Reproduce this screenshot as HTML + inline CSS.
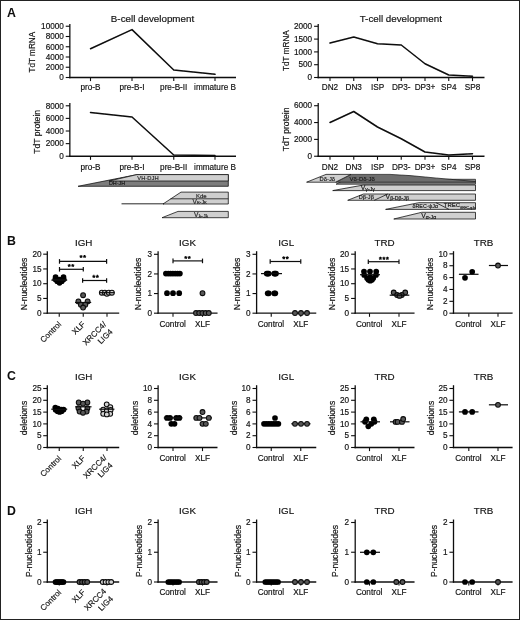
<!DOCTYPE html>
<html><head><meta charset="utf-8"><title>Figure</title>
<style>html,body{margin:0;padding:0;background:#fff;}body{width:520px;height:620px;overflow:hidden;font-family:"Liberation Sans",sans-serif;}svg{display:block;font-family:"Liberation Sans",sans-serif;}</style>
</head><body>
<svg width="520" height="620" viewBox="0 0 520 620">
<rect x="0" y="0" width="520" height="620" fill="#fff"/>
<rect x="0.5" y="0.5" width="519" height="619" fill="none" stroke="#222" stroke-width="1"/>
<defs><filter id="soft" x="0" y="0" width="520" height="620" filterUnits="userSpaceOnUse"><feGaussianBlur stdDeviation="0.38"/></filter></defs>
<g filter="url(#soft)">
<text x="7.00" y="17.20" font-size="12.3" text-anchor="start" font-weight="bold" fill="#0a0a0a" stroke="#0a0a0a" stroke-width="0">A</text>
<text x="7.00" y="244.90" font-size="12.3" text-anchor="start" font-weight="bold" fill="#0a0a0a" stroke="#0a0a0a" stroke-width="0">B</text>
<text x="7.00" y="379.80" font-size="12.3" text-anchor="start" font-weight="bold" fill="#0a0a0a" stroke="#0a0a0a" stroke-width="0">C</text>
<text x="7.00" y="514.50" font-size="12.3" text-anchor="start" font-weight="bold" fill="#0a0a0a" stroke="#0a0a0a" stroke-width="0">D</text>
<line x1="69.85" y1="24.00" x2="69.85" y2="78.15" stroke="#111" stroke-width="1.3" stroke-linecap="butt"/>
<line x1="69.20" y1="77.50" x2="236.00" y2="77.50" stroke="#111" stroke-width="1.3" stroke-linecap="butt"/>
<line x1="65.75" y1="77.50" x2="69.85" y2="77.50" stroke="#111" stroke-width="1.1" stroke-linecap="butt"/>
<text x="63.90" y="80.25" font-size="8.2" text-anchor="end" font-weight="normal" fill="#151515" stroke="#151515" stroke-width="0.18">0</text>
<line x1="65.75" y1="67.25" x2="69.85" y2="67.25" stroke="#111" stroke-width="1.1" stroke-linecap="butt"/>
<text x="63.90" y="70.00" font-size="8.2" text-anchor="end" font-weight="normal" fill="#151515" stroke="#151515" stroke-width="0.18">2000</text>
<line x1="65.75" y1="57.00" x2="69.85" y2="57.00" stroke="#111" stroke-width="1.1" stroke-linecap="butt"/>
<text x="63.90" y="59.75" font-size="8.2" text-anchor="end" font-weight="normal" fill="#151515" stroke="#151515" stroke-width="0.18">4000</text>
<line x1="65.75" y1="46.75" x2="69.85" y2="46.75" stroke="#111" stroke-width="1.1" stroke-linecap="butt"/>
<text x="63.90" y="49.50" font-size="8.2" text-anchor="end" font-weight="normal" fill="#151515" stroke="#151515" stroke-width="0.18">6000</text>
<line x1="65.75" y1="36.50" x2="69.85" y2="36.50" stroke="#111" stroke-width="1.1" stroke-linecap="butt"/>
<text x="63.90" y="39.25" font-size="8.2" text-anchor="end" font-weight="normal" fill="#151515" stroke="#151515" stroke-width="0.18">8000</text>
<line x1="65.75" y1="26.25" x2="69.85" y2="26.25" stroke="#111" stroke-width="1.1" stroke-linecap="butt"/>
<text x="63.90" y="29.00" font-size="8.2" text-anchor="end" font-weight="normal" fill="#151515" stroke="#151515" stroke-width="0.18">10000</text>
<line x1="90.50" y1="77.50" x2="90.50" y2="81.10" stroke="#111" stroke-width="1.1" stroke-linecap="butt"/>
<line x1="132.00" y1="77.50" x2="132.00" y2="81.10" stroke="#111" stroke-width="1.1" stroke-linecap="butt"/>
<line x1="173.75" y1="77.50" x2="173.75" y2="81.10" stroke="#111" stroke-width="1.1" stroke-linecap="butt"/>
<line x1="215.00" y1="77.50" x2="215.00" y2="81.10" stroke="#111" stroke-width="1.1" stroke-linecap="butt"/>
<text x="35.00" y="52.20" font-size="8.2" text-anchor="middle" font-weight="normal" fill="#151515" stroke="#151515" stroke-width="0.18" transform="rotate(-90 35.00 52.20)">TdT mRNA</text>
<text x="152.50" y="22.00" font-size="9.8" text-anchor="middle" font-weight="normal" fill="#151515" stroke="#151515" stroke-width="0.18">B-cell development</text>
<text x="90.50" y="90.30" font-size="8.2" text-anchor="middle" font-weight="normal" fill="#151515" stroke="#151515" stroke-width="0.18">pro-B</text>
<text x="132.00" y="90.30" font-size="8.2" text-anchor="middle" font-weight="normal" fill="#151515" stroke="#151515" stroke-width="0.18">pre-B-I</text>
<text x="173.75" y="90.30" font-size="8.2" text-anchor="middle" font-weight="normal" fill="#151515" stroke="#151515" stroke-width="0.18">pre-B-II</text>
<text x="215.00" y="90.30" font-size="8.2" text-anchor="middle" font-weight="normal" fill="#151515" stroke="#151515" stroke-width="0.18">immature B</text>
<polyline points="90.50,48.75 132.00,29.60 173.75,70.00 215.00,74.30" fill="none" stroke="#0a0a0a" stroke-width="1.5" stroke-linejoin="round" stroke-linecap="round"/>
<line x1="69.85" y1="103.00" x2="69.85" y2="156.90" stroke="#111" stroke-width="1.3" stroke-linecap="butt"/>
<line x1="69.20" y1="156.25" x2="236.00" y2="156.25" stroke="#111" stroke-width="1.3" stroke-linecap="butt"/>
<line x1="65.75" y1="156.25" x2="69.85" y2="156.25" stroke="#111" stroke-width="1.1" stroke-linecap="butt"/>
<text x="63.90" y="159.00" font-size="8.2" text-anchor="end" font-weight="normal" fill="#151515" stroke="#151515" stroke-width="0.18">0</text>
<line x1="65.75" y1="143.63" x2="69.85" y2="143.63" stroke="#111" stroke-width="1.1" stroke-linecap="butt"/>
<text x="63.90" y="146.38" font-size="8.2" text-anchor="end" font-weight="normal" fill="#151515" stroke="#151515" stroke-width="0.18">2000</text>
<line x1="65.75" y1="131.01" x2="69.85" y2="131.01" stroke="#111" stroke-width="1.1" stroke-linecap="butt"/>
<text x="63.90" y="133.76" font-size="8.2" text-anchor="end" font-weight="normal" fill="#151515" stroke="#151515" stroke-width="0.18">4000</text>
<line x1="65.75" y1="118.39" x2="69.85" y2="118.39" stroke="#111" stroke-width="1.1" stroke-linecap="butt"/>
<text x="63.90" y="121.14" font-size="8.2" text-anchor="end" font-weight="normal" fill="#151515" stroke="#151515" stroke-width="0.18">6000</text>
<line x1="65.75" y1="105.77" x2="69.85" y2="105.77" stroke="#111" stroke-width="1.1" stroke-linecap="butt"/>
<text x="63.90" y="108.52" font-size="8.2" text-anchor="end" font-weight="normal" fill="#151515" stroke="#151515" stroke-width="0.18">8000</text>
<line x1="90.50" y1="156.25" x2="90.50" y2="159.85" stroke="#111" stroke-width="1.1" stroke-linecap="butt"/>
<line x1="132.00" y1="156.25" x2="132.00" y2="159.85" stroke="#111" stroke-width="1.1" stroke-linecap="butt"/>
<line x1="173.75" y1="156.25" x2="173.75" y2="159.85" stroke="#111" stroke-width="1.1" stroke-linecap="butt"/>
<line x1="215.00" y1="156.25" x2="215.00" y2="159.85" stroke="#111" stroke-width="1.1" stroke-linecap="butt"/>
<text x="40.50" y="131.80" font-size="8.6" text-anchor="middle" font-weight="normal" fill="#151515" stroke="#151515" stroke-width="0.18" transform="rotate(-90 40.50 131.80)">TdT protein</text>
<text x="90.50" y="169.60" font-size="8.2" text-anchor="middle" font-weight="normal" fill="#151515" stroke="#151515" stroke-width="0.18">pro-B</text>
<text x="132.00" y="169.60" font-size="8.2" text-anchor="middle" font-weight="normal" fill="#151515" stroke="#151515" stroke-width="0.18">pre-B-I</text>
<text x="173.75" y="169.60" font-size="8.2" text-anchor="middle" font-weight="normal" fill="#151515" stroke="#151515" stroke-width="0.18">pre-B-II</text>
<text x="215.00" y="169.60" font-size="8.2" text-anchor="middle" font-weight="normal" fill="#151515" stroke="#151515" stroke-width="0.18">immature B</text>
<polyline points="90.50,112.50 132.00,117.00 173.75,155.00 215.00,155.40" fill="none" stroke="#0a0a0a" stroke-width="1.5" stroke-linejoin="round" stroke-linecap="round"/>
<polygon points="78.00,186.30 137.00,174.60 228.30,174.60 228.30,186.30" fill="#7d7d7d" stroke="#151515" stroke-width="0.8" stroke-linejoin="bevel"/>
<polygon points="109.00,181.00 137.00,174.60 228.30,174.60 228.30,181.00" fill="#cfcfcf" stroke="#151515" stroke-width="0.8" stroke-linejoin="bevel"/>
<text x="148.00" y="179.70" font-size="5.8" text-anchor="middle" font-weight="normal" fill="#2a2a2a" stroke="#2a2a2a" stroke-width="0.18">VH-DJH</text>
<text x="117.00" y="185.40" font-size="5.4" text-anchor="middle" font-weight="normal" fill="#1a1a1a" stroke="#1a1a1a" stroke-width="0.18">DH-JH</text>
<polygon points="163.00,204.00 181.00,192.10 228.30,192.10 228.30,204.00" fill="#cfcfcf" stroke="#151515" stroke-width="0.8" stroke-linejoin="bevel"/>
<line x1="170.50" y1="198.80" x2="228.30" y2="198.80" stroke="#151515" stroke-width="0.8" stroke-linecap="butt"/>
<line x1="121.50" y1="203.80" x2="164.00" y2="203.80" stroke="#151515" stroke-width="0.9" stroke-linecap="butt"/>
<text x="201.30" y="197.90" font-size="6.0" text-anchor="middle" font-weight="normal" fill="#2a2a2a" stroke="#2a2a2a" stroke-width="0.18">Kde</text>
<text x="192.50" y="203.50" text-anchor="start" fill="#2a2a2a" stroke="#2a2a2a" stroke-width="0.2"><tspan font-size="6.6">V</tspan><tspan font-size="5.4" dy="0.6">κ-Jκ</tspan></text>
<polygon points="162.00,217.70 178.00,211.40 228.30,211.40 228.30,217.70" fill="#cfcfcf" stroke="#151515" stroke-width="0.8" stroke-linejoin="bevel"/>
<text x="194.00" y="216.90" text-anchor="start" fill="#2a2a2a" stroke="#2a2a2a" stroke-width="0.2"><tspan font-size="6.6">V</tspan><tspan font-size="5.4" dy="0.6">λ-Jλ</tspan></text>
<line x1="318.20" y1="24.00" x2="318.20" y2="78.15" stroke="#111" stroke-width="1.3" stroke-linecap="butt"/>
<line x1="317.55" y1="77.50" x2="484.50" y2="77.50" stroke="#111" stroke-width="1.3" stroke-linecap="butt"/>
<line x1="314.10" y1="77.50" x2="318.20" y2="77.50" stroke="#111" stroke-width="1.1" stroke-linecap="butt"/>
<text x="312.10" y="80.25" font-size="8.2" text-anchor="end" font-weight="normal" fill="#151515" stroke="#151515" stroke-width="0.18">0</text>
<line x1="314.10" y1="64.70" x2="318.20" y2="64.70" stroke="#111" stroke-width="1.1" stroke-linecap="butt"/>
<text x="312.10" y="67.45" font-size="8.2" text-anchor="end" font-weight="normal" fill="#151515" stroke="#151515" stroke-width="0.18">500</text>
<line x1="314.10" y1="51.90" x2="318.20" y2="51.90" stroke="#111" stroke-width="1.1" stroke-linecap="butt"/>
<text x="312.10" y="54.65" font-size="8.2" text-anchor="end" font-weight="normal" fill="#151515" stroke="#151515" stroke-width="0.18">1000</text>
<line x1="314.10" y1="39.10" x2="318.20" y2="39.10" stroke="#111" stroke-width="1.1" stroke-linecap="butt"/>
<text x="312.10" y="41.85" font-size="8.2" text-anchor="end" font-weight="normal" fill="#151515" stroke="#151515" stroke-width="0.18">1500</text>
<line x1="314.10" y1="26.30" x2="318.20" y2="26.30" stroke="#111" stroke-width="1.1" stroke-linecap="butt"/>
<text x="312.10" y="29.05" font-size="8.2" text-anchor="end" font-weight="normal" fill="#151515" stroke="#151515" stroke-width="0.18">2000</text>
<line x1="330.00" y1="77.50" x2="330.00" y2="81.10" stroke="#111" stroke-width="1.1" stroke-linecap="butt"/>
<line x1="353.75" y1="77.50" x2="353.75" y2="81.10" stroke="#111" stroke-width="1.1" stroke-linecap="butt"/>
<line x1="377.50" y1="77.50" x2="377.50" y2="81.10" stroke="#111" stroke-width="1.1" stroke-linecap="butt"/>
<line x1="401.25" y1="77.50" x2="401.25" y2="81.10" stroke="#111" stroke-width="1.1" stroke-linecap="butt"/>
<line x1="425.00" y1="77.50" x2="425.00" y2="81.10" stroke="#111" stroke-width="1.1" stroke-linecap="butt"/>
<line x1="448.75" y1="77.50" x2="448.75" y2="81.10" stroke="#111" stroke-width="1.1" stroke-linecap="butt"/>
<line x1="472.50" y1="77.50" x2="472.50" y2="81.10" stroke="#111" stroke-width="1.1" stroke-linecap="butt"/>
<text x="288.90" y="50.60" font-size="8.2" text-anchor="middle" font-weight="normal" fill="#151515" stroke="#151515" stroke-width="0.18" transform="rotate(-90 288.90 50.60)">TdT mRNA</text>
<text x="400.80" y="22.00" font-size="9.8" text-anchor="middle" font-weight="normal" fill="#151515" stroke="#151515" stroke-width="0.18">T-cell development</text>
<text x="330.00" y="90.30" font-size="8.2" text-anchor="middle" font-weight="normal" fill="#151515" stroke="#151515" stroke-width="0.18">DN2</text>
<text x="353.75" y="90.30" font-size="8.2" text-anchor="middle" font-weight="normal" fill="#151515" stroke="#151515" stroke-width="0.18">DN3</text>
<text x="377.50" y="90.30" font-size="8.2" text-anchor="middle" font-weight="normal" fill="#151515" stroke="#151515" stroke-width="0.18">ISP</text>
<text x="401.25" y="90.30" font-size="8.2" text-anchor="middle" font-weight="normal" fill="#151515" stroke="#151515" stroke-width="0.18">DP3-</text>
<text x="425.00" y="90.30" font-size="8.2" text-anchor="middle" font-weight="normal" fill="#151515" stroke="#151515" stroke-width="0.18">DP3+</text>
<text x="448.75" y="90.30" font-size="8.2" text-anchor="middle" font-weight="normal" fill="#151515" stroke="#151515" stroke-width="0.18">SP4</text>
<text x="472.50" y="90.30" font-size="8.2" text-anchor="middle" font-weight="normal" fill="#151515" stroke="#151515" stroke-width="0.18">SP8</text>
<polyline points="330.00,43.00 353.75,37.00 377.50,43.75 401.25,45.00 425.00,63.75 448.75,75.00 472.50,76.30" fill="none" stroke="#0a0a0a" stroke-width="1.5" stroke-linejoin="round" stroke-linecap="round"/>
<line x1="318.20" y1="103.00" x2="318.20" y2="156.90" stroke="#111" stroke-width="1.3" stroke-linecap="butt"/>
<line x1="317.55" y1="156.25" x2="484.50" y2="156.25" stroke="#111" stroke-width="1.3" stroke-linecap="butt"/>
<line x1="314.10" y1="156.25" x2="318.20" y2="156.25" stroke="#111" stroke-width="1.1" stroke-linecap="butt"/>
<text x="312.10" y="159.00" font-size="8.2" text-anchor="end" font-weight="normal" fill="#151515" stroke="#151515" stroke-width="0.18">0</text>
<line x1="314.10" y1="139.40" x2="318.20" y2="139.40" stroke="#111" stroke-width="1.1" stroke-linecap="butt"/>
<text x="312.10" y="142.15" font-size="8.2" text-anchor="end" font-weight="normal" fill="#151515" stroke="#151515" stroke-width="0.18">2000</text>
<line x1="314.10" y1="122.55" x2="318.20" y2="122.55" stroke="#111" stroke-width="1.1" stroke-linecap="butt"/>
<text x="312.10" y="125.30" font-size="8.2" text-anchor="end" font-weight="normal" fill="#151515" stroke="#151515" stroke-width="0.18">4000</text>
<line x1="314.10" y1="105.70" x2="318.20" y2="105.70" stroke="#111" stroke-width="1.1" stroke-linecap="butt"/>
<text x="312.10" y="108.45" font-size="8.2" text-anchor="end" font-weight="normal" fill="#151515" stroke="#151515" stroke-width="0.18">6000</text>
<line x1="330.00" y1="156.25" x2="330.00" y2="159.85" stroke="#111" stroke-width="1.1" stroke-linecap="butt"/>
<line x1="353.75" y1="156.25" x2="353.75" y2="159.85" stroke="#111" stroke-width="1.1" stroke-linecap="butt"/>
<line x1="377.50" y1="156.25" x2="377.50" y2="159.85" stroke="#111" stroke-width="1.1" stroke-linecap="butt"/>
<line x1="401.25" y1="156.25" x2="401.25" y2="159.85" stroke="#111" stroke-width="1.1" stroke-linecap="butt"/>
<line x1="425.00" y1="156.25" x2="425.00" y2="159.85" stroke="#111" stroke-width="1.1" stroke-linecap="butt"/>
<line x1="448.75" y1="156.25" x2="448.75" y2="159.85" stroke="#111" stroke-width="1.1" stroke-linecap="butt"/>
<line x1="472.50" y1="156.25" x2="472.50" y2="159.85" stroke="#111" stroke-width="1.1" stroke-linecap="butt"/>
<text x="289.20" y="129.40" font-size="8.6" text-anchor="middle" font-weight="normal" fill="#151515" stroke="#151515" stroke-width="0.18" transform="rotate(-90 289.20 129.40)">TdT protein</text>
<text x="330.00" y="169.60" font-size="8.2" text-anchor="middle" font-weight="normal" fill="#151515" stroke="#151515" stroke-width="0.18">DN2</text>
<text x="353.75" y="169.60" font-size="8.2" text-anchor="middle" font-weight="normal" fill="#151515" stroke="#151515" stroke-width="0.18">DN3</text>
<text x="377.50" y="169.60" font-size="8.2" text-anchor="middle" font-weight="normal" fill="#151515" stroke="#151515" stroke-width="0.18">ISP</text>
<text x="401.25" y="169.60" font-size="8.2" text-anchor="middle" font-weight="normal" fill="#151515" stroke="#151515" stroke-width="0.18">DP3-</text>
<text x="425.00" y="169.60" font-size="8.2" text-anchor="middle" font-weight="normal" fill="#151515" stroke="#151515" stroke-width="0.18">DP3+</text>
<text x="448.75" y="169.60" font-size="8.2" text-anchor="middle" font-weight="normal" fill="#151515" stroke="#151515" stroke-width="0.18">SP4</text>
<text x="472.50" y="169.60" font-size="8.2" text-anchor="middle" font-weight="normal" fill="#151515" stroke="#151515" stroke-width="0.18">SP8</text>
<polyline points="330.00,122.50 353.75,111.50 377.50,127.00 401.25,138.75 425.00,152.00 448.75,155.00 472.50,153.80" fill="none" stroke="#0a0a0a" stroke-width="1.5" stroke-linejoin="round" stroke-linecap="round"/>
<polygon points="345.50,179.30 475.50,179.30 475.50,184.20 336.00,184.20" fill="#8e8e8e" stroke="#151515" stroke-width="0.7" stroke-linejoin="bevel"/>
<polygon points="335.60,182.20 351.00,174.40 390.00,174.40 410.00,175.60 440.00,178.40 475.50,181.50 475.50,182.20" fill="#6e6e6e" stroke="#151515" stroke-width="0.7" stroke-linejoin="bevel"/>
<polygon points="306.60,182.20 326.00,174.40 351.00,174.40 335.60,182.20" fill="#cfcfcf" stroke="#151515" stroke-width="0.8" stroke-linejoin="bevel"/>
<text x="327.30" y="180.50" font-size="5.8" text-anchor="middle" font-weight="normal" fill="#1a1a1a" stroke="#1a1a1a" stroke-width="0.18">Dδ-Jδ</text>
<text x="362.30" y="180.50" font-size="6.0" text-anchor="middle" font-weight="normal" fill="#1a1a1a" stroke="#1a1a1a" stroke-width="0.18">Vδ-Dδ-Jδ</text>
<polygon points="332.70,190.60 363.50,185.00 475.50,185.00 475.50,190.60" fill="#cfcfcf" stroke="#151515" stroke-width="0.8" stroke-linejoin="bevel"/>
<text x="360.80" y="190.00" text-anchor="start" fill="#1a1a1a" stroke="#1a1a1a" stroke-width="0.2"><tspan font-size="6.8">V</tspan><tspan font-size="5.2" dy="0.6">γ-Jγ</tspan></text>
<polygon points="347.70,200.30 363.50,194.00 475.50,194.00 475.50,200.30" fill="#cfcfcf" stroke="#151515" stroke-width="0.8" stroke-linejoin="bevel"/>
<line x1="374.20" y1="200.30" x2="387.80" y2="194.00" stroke="#151515" stroke-width="0.8" stroke-linecap="butt"/>
<text x="366.30" y="199.40" font-size="5.6" text-anchor="middle" font-weight="normal" fill="#1a1a1a" stroke="#1a1a1a" stroke-width="0.18">Dβ-Jβ</text>
<text x="385.60" y="199.30" text-anchor="start" fill="#1a1a1a" stroke="#1a1a1a" stroke-width="0.2"><tspan font-size="6.8">V</tspan><tspan font-size="5.2" dy="0.6">β-Dβ-Jβ</tspan></text>
<polygon points="385.60,209.40 418.80,202.70 475.50,202.70 475.50,209.40" fill="#cfcfcf" stroke="#151515" stroke-width="0.8" stroke-linejoin="bevel"/>
<line x1="436.00" y1="202.70" x2="449.00" y2="209.40" stroke="#151515" stroke-width="0.8" stroke-linecap="butt"/>
<text x="425.30" y="208.20" font-size="5.3" text-anchor="middle" font-weight="normal" fill="#1a1a1a" stroke="#1a1a1a" stroke-width="0.18">δREC-ψJα</text>
<text x="452.00" y="207.00" font-size="6.0" text-anchor="middle" font-weight="normal" fill="#1a1a1a" stroke="#1a1a1a" stroke-width="0.18">TREC</text>
<text x="468.00" y="209.00" font-size="3.2" text-anchor="middle" font-weight="normal" fill="#1a1a1a" stroke="#1a1a1a" stroke-width="0.18">δREC-ψJα</text>
<polygon points="393.80,219.00 421.70,212.30 475.50,212.30 475.50,219.00" fill="#cfcfcf" stroke="#151515" stroke-width="0.8" stroke-linejoin="bevel"/>
<text x="421.30" y="218.30" text-anchor="start" fill="#1a1a1a" stroke="#1a1a1a" stroke-width="0.2"><tspan font-size="6.8">V</tspan><tspan font-size="5.2" dy="0.6">α-Jα</tspan></text>
<line x1="47.30" y1="251.20" x2="47.30" y2="313.85" stroke="#111" stroke-width="1.3" stroke-linecap="butt"/>
<line x1="46.65" y1="313.20" x2="119.20" y2="313.20" stroke="#111" stroke-width="1.3" stroke-linecap="butt"/>
<line x1="43.20" y1="313.20" x2="47.30" y2="313.20" stroke="#111" stroke-width="1.1" stroke-linecap="butt"/>
<text x="41.50" y="315.95" font-size="8.2" text-anchor="end" font-weight="normal" fill="#151515" stroke="#151515" stroke-width="0.18">0</text>
<line x1="43.20" y1="298.45" x2="47.30" y2="298.45" stroke="#111" stroke-width="1.1" stroke-linecap="butt"/>
<text x="41.50" y="301.20" font-size="8.2" text-anchor="end" font-weight="normal" fill="#151515" stroke="#151515" stroke-width="0.18">5</text>
<line x1="43.20" y1="283.70" x2="47.30" y2="283.70" stroke="#111" stroke-width="1.1" stroke-linecap="butt"/>
<text x="41.50" y="286.45" font-size="8.2" text-anchor="end" font-weight="normal" fill="#151515" stroke="#151515" stroke-width="0.18">10</text>
<line x1="43.20" y1="268.95" x2="47.30" y2="268.95" stroke="#111" stroke-width="1.1" stroke-linecap="butt"/>
<text x="41.50" y="271.70" font-size="8.2" text-anchor="end" font-weight="normal" fill="#151515" stroke="#151515" stroke-width="0.18">15</text>
<line x1="43.20" y1="254.20" x2="47.30" y2="254.20" stroke="#111" stroke-width="1.1" stroke-linecap="butt"/>
<text x="41.50" y="256.95" font-size="8.2" text-anchor="end" font-weight="normal" fill="#151515" stroke="#151515" stroke-width="0.18">20</text>
<line x1="59.25" y1="313.20" x2="59.25" y2="316.80" stroke="#111" stroke-width="1.1" stroke-linecap="butt"/>
<line x1="83.25" y1="313.20" x2="83.25" y2="316.80" stroke="#111" stroke-width="1.1" stroke-linecap="butt"/>
<line x1="107.00" y1="313.20" x2="107.00" y2="316.80" stroke="#111" stroke-width="1.1" stroke-linecap="butt"/>
<text x="26.70" y="284.00" font-size="8.6" text-anchor="middle" font-weight="normal" fill="#151515" stroke="#151515" stroke-width="0.18" transform="rotate(-90 26.70 284.00)">N-nucleotides</text>
<text x="83.75" y="246.00" font-size="9.8" text-anchor="middle" font-weight="normal" fill="#151515" stroke="#151515" stroke-width="0.18">IGH</text>
<text x="61.75" y="324.80" font-size="8.0" text-anchor="end" font-weight="normal" fill="#151515" stroke="#151515" stroke-width="0.18" transform="rotate(-45 61.75 324.80)">Control</text>
<text x="85.75" y="324.70" font-size="8.0" text-anchor="end" font-weight="normal" fill="#151515" stroke="#151515" stroke-width="0.18" transform="rotate(-45 85.75 324.70)">XLF</text>
<g transform="rotate(-45 109.50 321.30)"><text x="90.30" y="322.00" font-size="8.0" text-anchor="middle" fill="#151515" stroke="#151515" stroke-width="0.18">XRCC4/</text><text x="95.70" y="331.70" font-size="8.0" text-anchor="middle" fill="#151515" stroke="#151515" stroke-width="0.18">LIG4</text></g>
<line x1="158.10" y1="251.20" x2="158.10" y2="313.85" stroke="#111" stroke-width="1.3" stroke-linecap="butt"/>
<line x1="157.45" y1="313.20" x2="217.50" y2="313.20" stroke="#111" stroke-width="1.3" stroke-linecap="butt"/>
<line x1="154.00" y1="313.20" x2="158.10" y2="313.20" stroke="#111" stroke-width="1.1" stroke-linecap="butt"/>
<text x="152.00" y="315.95" font-size="8.2" text-anchor="end" font-weight="normal" fill="#151515" stroke="#151515" stroke-width="0.18">0</text>
<line x1="154.00" y1="293.57" x2="158.10" y2="293.57" stroke="#111" stroke-width="1.1" stroke-linecap="butt"/>
<text x="152.00" y="296.32" font-size="8.2" text-anchor="end" font-weight="normal" fill="#151515" stroke="#151515" stroke-width="0.18">1</text>
<line x1="154.00" y1="273.94" x2="158.10" y2="273.94" stroke="#111" stroke-width="1.1" stroke-linecap="butt"/>
<text x="152.00" y="276.69" font-size="8.2" text-anchor="end" font-weight="normal" fill="#151515" stroke="#151515" stroke-width="0.18">2</text>
<line x1="154.00" y1="254.31" x2="158.10" y2="254.31" stroke="#111" stroke-width="1.1" stroke-linecap="butt"/>
<text x="152.00" y="257.06" font-size="8.2" text-anchor="end" font-weight="normal" fill="#151515" stroke="#151515" stroke-width="0.18">3</text>
<line x1="173.00" y1="313.20" x2="173.00" y2="316.80" stroke="#111" stroke-width="1.1" stroke-linecap="butt"/>
<line x1="202.50" y1="313.20" x2="202.50" y2="316.80" stroke="#111" stroke-width="1.1" stroke-linecap="butt"/>
<text x="140.70" y="284.00" font-size="8.6" text-anchor="middle" font-weight="normal" fill="#151515" stroke="#151515" stroke-width="0.18" transform="rotate(-90 140.70 284.00)">N-nucleotides</text>
<text x="187.50" y="246.00" font-size="9.8" text-anchor="middle" font-weight="normal" fill="#151515" stroke="#151515" stroke-width="0.18">IGK</text>
<text x="172.60" y="327.00" font-size="8.2" text-anchor="middle" font-weight="normal" fill="#151515" stroke="#151515" stroke-width="0.18">Control</text>
<text x="202.50" y="327.00" font-size="8.2" text-anchor="middle" font-weight="normal" fill="#151515" stroke="#151515" stroke-width="0.18">XLF</text>
<line x1="256.60" y1="251.20" x2="256.60" y2="313.85" stroke="#111" stroke-width="1.3" stroke-linecap="butt"/>
<line x1="255.95" y1="313.20" x2="316.25" y2="313.20" stroke="#111" stroke-width="1.3" stroke-linecap="butt"/>
<line x1="252.50" y1="313.20" x2="256.60" y2="313.20" stroke="#111" stroke-width="1.1" stroke-linecap="butt"/>
<text x="250.50" y="315.95" font-size="8.2" text-anchor="end" font-weight="normal" fill="#151515" stroke="#151515" stroke-width="0.18">0</text>
<line x1="252.50" y1="293.57" x2="256.60" y2="293.57" stroke="#111" stroke-width="1.1" stroke-linecap="butt"/>
<text x="250.50" y="296.32" font-size="8.2" text-anchor="end" font-weight="normal" fill="#151515" stroke="#151515" stroke-width="0.18">1</text>
<line x1="252.50" y1="273.94" x2="256.60" y2="273.94" stroke="#111" stroke-width="1.1" stroke-linecap="butt"/>
<text x="250.50" y="276.69" font-size="8.2" text-anchor="end" font-weight="normal" fill="#151515" stroke="#151515" stroke-width="0.18">2</text>
<line x1="252.50" y1="254.31" x2="256.60" y2="254.31" stroke="#111" stroke-width="1.1" stroke-linecap="butt"/>
<text x="250.50" y="257.06" font-size="8.2" text-anchor="end" font-weight="normal" fill="#151515" stroke="#151515" stroke-width="0.18">3</text>
<line x1="271.25" y1="313.20" x2="271.25" y2="316.80" stroke="#111" stroke-width="1.1" stroke-linecap="butt"/>
<line x1="300.75" y1="313.20" x2="300.75" y2="316.80" stroke="#111" stroke-width="1.1" stroke-linecap="butt"/>
<text x="240.00" y="284.00" font-size="8.6" text-anchor="middle" font-weight="normal" fill="#151515" stroke="#151515" stroke-width="0.18" transform="rotate(-90 240.00 284.00)">N-nucleotides</text>
<text x="286.25" y="246.00" font-size="9.8" text-anchor="middle" font-weight="normal" fill="#151515" stroke="#151515" stroke-width="0.18">IGL</text>
<text x="270.85" y="327.00" font-size="8.2" text-anchor="middle" font-weight="normal" fill="#151515" stroke="#151515" stroke-width="0.18">Control</text>
<text x="300.75" y="327.00" font-size="8.2" text-anchor="middle" font-weight="normal" fill="#151515" stroke="#151515" stroke-width="0.18">XLF</text>
<line x1="355.20" y1="251.20" x2="355.20" y2="313.85" stroke="#111" stroke-width="1.3" stroke-linecap="butt"/>
<line x1="354.55" y1="313.20" x2="414.50" y2="313.20" stroke="#111" stroke-width="1.3" stroke-linecap="butt"/>
<line x1="351.10" y1="313.20" x2="355.20" y2="313.20" stroke="#111" stroke-width="1.1" stroke-linecap="butt"/>
<text x="349.10" y="315.95" font-size="8.2" text-anchor="end" font-weight="normal" fill="#151515" stroke="#151515" stroke-width="0.18">0</text>
<line x1="351.10" y1="298.45" x2="355.20" y2="298.45" stroke="#111" stroke-width="1.1" stroke-linecap="butt"/>
<text x="349.10" y="301.20" font-size="8.2" text-anchor="end" font-weight="normal" fill="#151515" stroke="#151515" stroke-width="0.18">5</text>
<line x1="351.10" y1="283.70" x2="355.20" y2="283.70" stroke="#111" stroke-width="1.1" stroke-linecap="butt"/>
<text x="349.10" y="286.45" font-size="8.2" text-anchor="end" font-weight="normal" fill="#151515" stroke="#151515" stroke-width="0.18">10</text>
<line x1="351.10" y1="268.95" x2="355.20" y2="268.95" stroke="#111" stroke-width="1.1" stroke-linecap="butt"/>
<text x="349.10" y="271.70" font-size="8.2" text-anchor="end" font-weight="normal" fill="#151515" stroke="#151515" stroke-width="0.18">15</text>
<line x1="351.10" y1="254.20" x2="355.20" y2="254.20" stroke="#111" stroke-width="1.1" stroke-linecap="butt"/>
<text x="349.10" y="256.95" font-size="8.2" text-anchor="end" font-weight="normal" fill="#151515" stroke="#151515" stroke-width="0.18">20</text>
<line x1="369.50" y1="313.20" x2="369.50" y2="316.80" stroke="#111" stroke-width="1.1" stroke-linecap="butt"/>
<line x1="399.00" y1="313.20" x2="399.00" y2="316.80" stroke="#111" stroke-width="1.1" stroke-linecap="butt"/>
<text x="334.80" y="284.00" font-size="8.6" text-anchor="middle" font-weight="normal" fill="#151515" stroke="#151515" stroke-width="0.18" transform="rotate(-90 334.80 284.00)">N-nucleotides</text>
<text x="384.50" y="246.00" font-size="9.8" text-anchor="middle" font-weight="normal" fill="#151515" stroke="#151515" stroke-width="0.18">TRD</text>
<text x="369.10" y="327.00" font-size="8.2" text-anchor="middle" font-weight="normal" fill="#151515" stroke="#151515" stroke-width="0.18">Control</text>
<text x="399.00" y="327.00" font-size="8.2" text-anchor="middle" font-weight="normal" fill="#151515" stroke="#151515" stroke-width="0.18">XLF</text>
<line x1="453.50" y1="251.20" x2="453.50" y2="313.85" stroke="#111" stroke-width="1.3" stroke-linecap="butt"/>
<line x1="452.85" y1="313.20" x2="512.60" y2="313.20" stroke="#111" stroke-width="1.3" stroke-linecap="butt"/>
<line x1="449.40" y1="313.20" x2="453.50" y2="313.20" stroke="#111" stroke-width="1.1" stroke-linecap="butt"/>
<text x="447.50" y="315.95" font-size="8.2" text-anchor="end" font-weight="normal" fill="#151515" stroke="#151515" stroke-width="0.18">0</text>
<line x1="449.40" y1="301.33" x2="453.50" y2="301.33" stroke="#111" stroke-width="1.1" stroke-linecap="butt"/>
<text x="447.50" y="304.08" font-size="8.2" text-anchor="end" font-weight="normal" fill="#151515" stroke="#151515" stroke-width="0.18">2</text>
<line x1="449.40" y1="289.46" x2="453.50" y2="289.46" stroke="#111" stroke-width="1.1" stroke-linecap="butt"/>
<text x="447.50" y="292.21" font-size="8.2" text-anchor="end" font-weight="normal" fill="#151515" stroke="#151515" stroke-width="0.18">4</text>
<line x1="449.40" y1="277.59" x2="453.50" y2="277.59" stroke="#111" stroke-width="1.1" stroke-linecap="butt"/>
<text x="447.50" y="280.34" font-size="8.2" text-anchor="end" font-weight="normal" fill="#151515" stroke="#151515" stroke-width="0.18">6</text>
<line x1="449.40" y1="265.72" x2="453.50" y2="265.72" stroke="#111" stroke-width="1.1" stroke-linecap="butt"/>
<text x="447.50" y="268.47" font-size="8.2" text-anchor="end" font-weight="normal" fill="#151515" stroke="#151515" stroke-width="0.18">8</text>
<line x1="449.40" y1="253.85" x2="453.50" y2="253.85" stroke="#111" stroke-width="1.1" stroke-linecap="butt"/>
<text x="447.50" y="256.60" font-size="8.2" text-anchor="end" font-weight="normal" fill="#151515" stroke="#151515" stroke-width="0.18">10</text>
<line x1="468.80" y1="313.20" x2="468.80" y2="316.80" stroke="#111" stroke-width="1.1" stroke-linecap="butt"/>
<line x1="498.00" y1="313.20" x2="498.00" y2="316.80" stroke="#111" stroke-width="1.1" stroke-linecap="butt"/>
<text x="432.90" y="284.00" font-size="8.6" text-anchor="middle" font-weight="normal" fill="#151515" stroke="#151515" stroke-width="0.18" transform="rotate(-90 432.90 284.00)">N-nucleotides</text>
<text x="483.50" y="246.00" font-size="9.8" text-anchor="middle" font-weight="normal" fill="#151515" stroke="#151515" stroke-width="0.18">TRB</text>
<text x="468.40" y="327.00" font-size="8.2" text-anchor="middle" font-weight="normal" fill="#151515" stroke="#151515" stroke-width="0.18">Control</text>
<text x="498.00" y="327.00" font-size="8.2" text-anchor="middle" font-weight="normal" fill="#151515" stroke="#151515" stroke-width="0.18">XLF</text>
<line x1="59.50" y1="261.40" x2="106.60" y2="261.40" stroke="#111" stroke-width="1.2" stroke-linecap="butt"/>
<line x1="59.50" y1="259.10" x2="59.50" y2="263.70" stroke="#111" stroke-width="1.2" stroke-linecap="butt"/>
<line x1="106.60" y1="259.10" x2="106.60" y2="263.70" stroke="#111" stroke-width="1.2" stroke-linecap="butt"/>
<line x1="81.05" y1="256.50" x2="81.05" y2="254.90" stroke="#050505" stroke-width="1.1" stroke-linecap="butt"/>
<line x1="81.05" y1="256.50" x2="82.57" y2="256.01" stroke="#050505" stroke-width="1.1" stroke-linecap="butt"/>
<line x1="81.05" y1="256.50" x2="79.53" y2="256.01" stroke="#050505" stroke-width="1.1" stroke-linecap="butt"/>
<line x1="81.05" y1="256.50" x2="80.11" y2="257.79" stroke="#050505" stroke-width="1.1" stroke-linecap="butt"/>
<line x1="81.05" y1="256.50" x2="81.99" y2="257.79" stroke="#050505" stroke-width="1.1" stroke-linecap="butt"/>
<line x1="84.55" y1="256.50" x2="84.55" y2="254.90" stroke="#050505" stroke-width="1.1" stroke-linecap="butt"/>
<line x1="84.55" y1="256.50" x2="86.07" y2="256.01" stroke="#050505" stroke-width="1.1" stroke-linecap="butt"/>
<line x1="84.55" y1="256.50" x2="83.03" y2="256.01" stroke="#050505" stroke-width="1.1" stroke-linecap="butt"/>
<line x1="84.55" y1="256.50" x2="83.61" y2="257.79" stroke="#050505" stroke-width="1.1" stroke-linecap="butt"/>
<line x1="84.55" y1="256.50" x2="85.49" y2="257.79" stroke="#050505" stroke-width="1.1" stroke-linecap="butt"/>
<line x1="59.50" y1="269.30" x2="83.30" y2="269.30" stroke="#111" stroke-width="1.2" stroke-linecap="butt"/>
<line x1="59.50" y1="267.00" x2="59.50" y2="271.60" stroke="#111" stroke-width="1.2" stroke-linecap="butt"/>
<line x1="83.30" y1="267.00" x2="83.30" y2="271.60" stroke="#111" stroke-width="1.2" stroke-linecap="butt"/>
<line x1="69.25" y1="265.50" x2="69.25" y2="263.90" stroke="#050505" stroke-width="1.1" stroke-linecap="butt"/>
<line x1="69.25" y1="265.50" x2="70.77" y2="265.01" stroke="#050505" stroke-width="1.1" stroke-linecap="butt"/>
<line x1="69.25" y1="265.50" x2="67.73" y2="265.01" stroke="#050505" stroke-width="1.1" stroke-linecap="butt"/>
<line x1="69.25" y1="265.50" x2="68.31" y2="266.79" stroke="#050505" stroke-width="1.1" stroke-linecap="butt"/>
<line x1="69.25" y1="265.50" x2="70.19" y2="266.79" stroke="#050505" stroke-width="1.1" stroke-linecap="butt"/>
<line x1="72.75" y1="265.50" x2="72.75" y2="263.90" stroke="#050505" stroke-width="1.1" stroke-linecap="butt"/>
<line x1="72.75" y1="265.50" x2="74.27" y2="265.01" stroke="#050505" stroke-width="1.1" stroke-linecap="butt"/>
<line x1="72.75" y1="265.50" x2="71.23" y2="265.01" stroke="#050505" stroke-width="1.1" stroke-linecap="butt"/>
<line x1="72.75" y1="265.50" x2="71.81" y2="266.79" stroke="#050505" stroke-width="1.1" stroke-linecap="butt"/>
<line x1="72.75" y1="265.50" x2="73.69" y2="266.79" stroke="#050505" stroke-width="1.1" stroke-linecap="butt"/>
<line x1="82.60" y1="280.50" x2="106.60" y2="280.50" stroke="#111" stroke-width="1.2" stroke-linecap="butt"/>
<line x1="82.60" y1="278.20" x2="82.60" y2="282.80" stroke="#111" stroke-width="1.2" stroke-linecap="butt"/>
<line x1="106.60" y1="278.20" x2="106.60" y2="282.80" stroke="#111" stroke-width="1.2" stroke-linecap="butt"/>
<line x1="93.85" y1="276.40" x2="93.85" y2="274.80" stroke="#050505" stroke-width="1.1" stroke-linecap="butt"/>
<line x1="93.85" y1="276.40" x2="95.37" y2="275.91" stroke="#050505" stroke-width="1.1" stroke-linecap="butt"/>
<line x1="93.85" y1="276.40" x2="92.33" y2="275.91" stroke="#050505" stroke-width="1.1" stroke-linecap="butt"/>
<line x1="93.85" y1="276.40" x2="92.91" y2="277.69" stroke="#050505" stroke-width="1.1" stroke-linecap="butt"/>
<line x1="93.85" y1="276.40" x2="94.79" y2="277.69" stroke="#050505" stroke-width="1.1" stroke-linecap="butt"/>
<line x1="97.35" y1="276.40" x2="97.35" y2="274.80" stroke="#050505" stroke-width="1.1" stroke-linecap="butt"/>
<line x1="97.35" y1="276.40" x2="98.87" y2="275.91" stroke="#050505" stroke-width="1.1" stroke-linecap="butt"/>
<line x1="97.35" y1="276.40" x2="95.83" y2="275.91" stroke="#050505" stroke-width="1.1" stroke-linecap="butt"/>
<line x1="97.35" y1="276.40" x2="96.41" y2="277.69" stroke="#050505" stroke-width="1.1" stroke-linecap="butt"/>
<line x1="97.35" y1="276.40" x2="98.29" y2="277.69" stroke="#050505" stroke-width="1.1" stroke-linecap="butt"/>
<circle cx="55.60" cy="277.10" r="2.85" fill="#050505"/>
<circle cx="63.50" cy="277.10" r="2.85" fill="#050505"/>
<circle cx="59.50" cy="279.60" r="2.85" fill="#050505"/>
<circle cx="55.30" cy="279.30" r="2.85" fill="#050505"/>
<circle cx="63.70" cy="279.30" r="2.85" fill="#050505"/>
<circle cx="57.20" cy="281.20" r="2.85" fill="#050505"/>
<circle cx="61.80" cy="281.20" r="2.85" fill="#050505"/>
<circle cx="59.50" cy="282.80" r="2.85" fill="#050505"/>
<circle cx="59.50" cy="280.50" r="2.85" fill="#050505"/>
<line x1="51.40" y1="280.10" x2="67.20" y2="280.10" stroke="#0a0a0a" stroke-width="1.2" stroke-linecap="butt"/>
<circle cx="83.10" cy="295.20" r="2.4" fill="#595959" stroke="#0a0a0a" stroke-width="1.05"/>
<circle cx="78.40" cy="301.40" r="2.4" fill="#595959" stroke="#0a0a0a" stroke-width="1.05"/>
<circle cx="87.60" cy="301.40" r="2.4" fill="#595959" stroke="#0a0a0a" stroke-width="1.05"/>
<circle cx="80.90" cy="304.70" r="2.4" fill="#595959" stroke="#0a0a0a" stroke-width="1.05"/>
<circle cx="85.30" cy="304.70" r="2.4" fill="#595959" stroke="#0a0a0a" stroke-width="1.05"/>
<circle cx="83.10" cy="307.50" r="2.4" fill="#595959" stroke="#0a0a0a" stroke-width="1.05"/>
<line x1="75.00" y1="302.50" x2="91.20" y2="302.50" stroke="#0a0a0a" stroke-width="1.2" stroke-linecap="butt"/>
<circle cx="101.80" cy="292.70" r="2.4" fill="#d4d4d4" stroke="#0a0a0a" stroke-width="1.05"/>
<circle cx="104.90" cy="292.70" r="2.4" fill="#d4d4d4" stroke="#0a0a0a" stroke-width="1.05"/>
<circle cx="106.90" cy="293.80" r="2.4" fill="#d4d4d4" stroke="#0a0a0a" stroke-width="1.05"/>
<circle cx="108.80" cy="292.70" r="2.4" fill="#d4d4d4" stroke="#0a0a0a" stroke-width="1.05"/>
<circle cx="111.90" cy="292.70" r="2.4" fill="#d4d4d4" stroke="#0a0a0a" stroke-width="1.05"/>
<line x1="99.00" y1="292.70" x2="114.50" y2="292.70" stroke="#0a0a0a" stroke-width="1.2" stroke-linecap="butt"/>
<line x1="173.00" y1="260.90" x2="202.50" y2="260.90" stroke="#111" stroke-width="1.2" stroke-linecap="butt"/>
<line x1="173.00" y1="258.60" x2="173.00" y2="263.20" stroke="#111" stroke-width="1.2" stroke-linecap="butt"/>
<line x1="202.50" y1="258.60" x2="202.50" y2="263.20" stroke="#111" stroke-width="1.2" stroke-linecap="butt"/>
<line x1="185.75" y1="257.50" x2="185.75" y2="255.90" stroke="#050505" stroke-width="1.1" stroke-linecap="butt"/>
<line x1="185.75" y1="257.50" x2="187.27" y2="257.01" stroke="#050505" stroke-width="1.1" stroke-linecap="butt"/>
<line x1="185.75" y1="257.50" x2="184.23" y2="257.01" stroke="#050505" stroke-width="1.1" stroke-linecap="butt"/>
<line x1="185.75" y1="257.50" x2="184.81" y2="258.79" stroke="#050505" stroke-width="1.1" stroke-linecap="butt"/>
<line x1="185.75" y1="257.50" x2="186.69" y2="258.79" stroke="#050505" stroke-width="1.1" stroke-linecap="butt"/>
<line x1="189.25" y1="257.50" x2="189.25" y2="255.90" stroke="#050505" stroke-width="1.1" stroke-linecap="butt"/>
<line x1="189.25" y1="257.50" x2="190.77" y2="257.01" stroke="#050505" stroke-width="1.1" stroke-linecap="butt"/>
<line x1="189.25" y1="257.50" x2="187.73" y2="257.01" stroke="#050505" stroke-width="1.1" stroke-linecap="butt"/>
<line x1="189.25" y1="257.50" x2="188.31" y2="258.79" stroke="#050505" stroke-width="1.1" stroke-linecap="butt"/>
<line x1="189.25" y1="257.50" x2="190.19" y2="258.79" stroke="#050505" stroke-width="1.1" stroke-linecap="butt"/>
<circle cx="165.90" cy="273.60" r="2.85" fill="#050505"/>
<circle cx="168.23" cy="273.60" r="2.85" fill="#050505"/>
<circle cx="170.56" cy="273.60" r="2.85" fill="#050505"/>
<circle cx="172.89" cy="273.60" r="2.85" fill="#050505"/>
<circle cx="175.22" cy="273.60" r="2.85" fill="#050505"/>
<circle cx="177.55" cy="273.60" r="2.85" fill="#050505"/>
<circle cx="179.88" cy="273.60" r="2.85" fill="#050505"/>
<circle cx="167.00" cy="293.20" r="2.85" fill="#050505"/>
<circle cx="173.00" cy="293.20" r="2.85" fill="#050505"/>
<circle cx="179.20" cy="293.20" r="2.85" fill="#050505"/>
<circle cx="202.50" cy="293.20" r="2.4" fill="#595959" stroke="#0a0a0a" stroke-width="1.05"/>
<circle cx="196.00" cy="313.00" r="2.4" fill="#595959" stroke="#0a0a0a" stroke-width="1.05"/>
<circle cx="199.20" cy="313.00" r="2.4" fill="#595959" stroke="#0a0a0a" stroke-width="1.05"/>
<circle cx="202.40" cy="313.00" r="2.4" fill="#595959" stroke="#0a0a0a" stroke-width="1.05"/>
<circle cx="205.60" cy="313.00" r="2.4" fill="#595959" stroke="#0a0a0a" stroke-width="1.05"/>
<circle cx="208.80" cy="313.00" r="2.4" fill="#595959" stroke="#0a0a0a" stroke-width="1.05"/>
<line x1="270.20" y1="261.50" x2="300.75" y2="261.50" stroke="#111" stroke-width="1.2" stroke-linecap="butt"/>
<line x1="270.20" y1="259.20" x2="270.20" y2="263.80" stroke="#111" stroke-width="1.2" stroke-linecap="butt"/>
<line x1="300.75" y1="259.20" x2="300.75" y2="263.80" stroke="#111" stroke-width="1.2" stroke-linecap="butt"/>
<line x1="283.75" y1="257.80" x2="283.75" y2="256.20" stroke="#050505" stroke-width="1.1" stroke-linecap="butt"/>
<line x1="283.75" y1="257.80" x2="285.27" y2="257.31" stroke="#050505" stroke-width="1.1" stroke-linecap="butt"/>
<line x1="283.75" y1="257.80" x2="282.23" y2="257.31" stroke="#050505" stroke-width="1.1" stroke-linecap="butt"/>
<line x1="283.75" y1="257.80" x2="282.81" y2="259.09" stroke="#050505" stroke-width="1.1" stroke-linecap="butt"/>
<line x1="283.75" y1="257.80" x2="284.69" y2="259.09" stroke="#050505" stroke-width="1.1" stroke-linecap="butt"/>
<line x1="287.25" y1="257.80" x2="287.25" y2="256.20" stroke="#050505" stroke-width="1.1" stroke-linecap="butt"/>
<line x1="287.25" y1="257.80" x2="288.77" y2="257.31" stroke="#050505" stroke-width="1.1" stroke-linecap="butt"/>
<line x1="287.25" y1="257.80" x2="285.73" y2="257.31" stroke="#050505" stroke-width="1.1" stroke-linecap="butt"/>
<line x1="287.25" y1="257.80" x2="286.31" y2="259.09" stroke="#050505" stroke-width="1.1" stroke-linecap="butt"/>
<line x1="287.25" y1="257.80" x2="288.19" y2="259.09" stroke="#050505" stroke-width="1.1" stroke-linecap="butt"/>
<circle cx="266.70" cy="273.60" r="2.85" fill="#050505"/>
<circle cx="267.70" cy="273.60" r="2.85" fill="#050505"/>
<circle cx="268.70" cy="273.60" r="2.85" fill="#050505"/>
<circle cx="274.20" cy="273.60" r="2.85" fill="#050505"/>
<circle cx="275.10" cy="273.60" r="2.85" fill="#050505"/>
<circle cx="276.00" cy="273.60" r="2.85" fill="#050505"/>
<line x1="261.00" y1="273.60" x2="282.00" y2="273.60" stroke="#0a0a0a" stroke-width="1.2" stroke-linecap="butt"/>
<circle cx="267.70" cy="293.30" r="2.85" fill="#050505"/>
<circle cx="268.80" cy="293.30" r="2.85" fill="#050505"/>
<circle cx="274.20" cy="293.30" r="2.85" fill="#050505"/>
<circle cx="275.30" cy="293.30" r="2.85" fill="#050505"/>
<circle cx="295.00" cy="313.00" r="2.4" fill="#595959" stroke="#0a0a0a" stroke-width="1.05"/>
<circle cx="301.00" cy="313.00" r="2.4" fill="#595959" stroke="#0a0a0a" stroke-width="1.05"/>
<circle cx="307.00" cy="313.00" r="2.4" fill="#595959" stroke="#0a0a0a" stroke-width="1.05"/>
<line x1="368.30" y1="261.70" x2="399.00" y2="261.70" stroke="#111" stroke-width="1.2" stroke-linecap="butt"/>
<line x1="368.30" y1="259.40" x2="368.30" y2="264.00" stroke="#111" stroke-width="1.2" stroke-linecap="butt"/>
<line x1="399.00" y1="259.40" x2="399.00" y2="264.00" stroke="#111" stroke-width="1.2" stroke-linecap="butt"/>
<line x1="380.40" y1="258.30" x2="380.40" y2="256.70" stroke="#050505" stroke-width="1.1" stroke-linecap="butt"/>
<line x1="380.40" y1="258.30" x2="381.92" y2="257.81" stroke="#050505" stroke-width="1.1" stroke-linecap="butt"/>
<line x1="380.40" y1="258.30" x2="378.88" y2="257.81" stroke="#050505" stroke-width="1.1" stroke-linecap="butt"/>
<line x1="380.40" y1="258.30" x2="379.46" y2="259.59" stroke="#050505" stroke-width="1.1" stroke-linecap="butt"/>
<line x1="380.40" y1="258.30" x2="381.34" y2="259.59" stroke="#050505" stroke-width="1.1" stroke-linecap="butt"/>
<line x1="383.90" y1="258.30" x2="383.90" y2="256.70" stroke="#050505" stroke-width="1.1" stroke-linecap="butt"/>
<line x1="383.90" y1="258.30" x2="385.42" y2="257.81" stroke="#050505" stroke-width="1.1" stroke-linecap="butt"/>
<line x1="383.90" y1="258.30" x2="382.38" y2="257.81" stroke="#050505" stroke-width="1.1" stroke-linecap="butt"/>
<line x1="383.90" y1="258.30" x2="382.96" y2="259.59" stroke="#050505" stroke-width="1.1" stroke-linecap="butt"/>
<line x1="383.90" y1="258.30" x2="384.84" y2="259.59" stroke="#050505" stroke-width="1.1" stroke-linecap="butt"/>
<line x1="387.40" y1="258.30" x2="387.40" y2="256.70" stroke="#050505" stroke-width="1.1" stroke-linecap="butt"/>
<line x1="387.40" y1="258.30" x2="388.92" y2="257.81" stroke="#050505" stroke-width="1.1" stroke-linecap="butt"/>
<line x1="387.40" y1="258.30" x2="385.88" y2="257.81" stroke="#050505" stroke-width="1.1" stroke-linecap="butt"/>
<line x1="387.40" y1="258.30" x2="386.46" y2="259.59" stroke="#050505" stroke-width="1.1" stroke-linecap="butt"/>
<line x1="387.40" y1="258.30" x2="388.34" y2="259.59" stroke="#050505" stroke-width="1.1" stroke-linecap="butt"/>
<circle cx="364.00" cy="271.60" r="2.85" fill="#050505"/>
<circle cx="370.00" cy="271.60" r="2.85" fill="#050505"/>
<circle cx="376.20" cy="271.60" r="2.85" fill="#050505"/>
<circle cx="364.20" cy="275.00" r="2.85" fill="#050505"/>
<circle cx="376.00" cy="275.00" r="2.85" fill="#050505"/>
<circle cx="367.00" cy="278.10" r="2.85" fill="#050505"/>
<circle cx="373.30" cy="278.10" r="2.85" fill="#050505"/>
<circle cx="368.40" cy="279.80" r="2.85" fill="#050505"/>
<circle cx="372.00" cy="279.80" r="2.85" fill="#050505"/>
<circle cx="370.20" cy="280.70" r="2.85" fill="#050505"/>
<circle cx="370.20" cy="277.40" r="2.85" fill="#050505"/>
<line x1="360.00" y1="274.70" x2="380.00" y2="274.70" stroke="#0a0a0a" stroke-width="1.2" stroke-linecap="butt"/>
<circle cx="393.70" cy="292.50" r="2.4" fill="#595959" stroke="#0a0a0a" stroke-width="1.05"/>
<circle cx="405.20" cy="292.50" r="2.4" fill="#595959" stroke="#0a0a0a" stroke-width="1.05"/>
<circle cx="397.10" cy="295.00" r="2.4" fill="#595959" stroke="#0a0a0a" stroke-width="1.05"/>
<circle cx="401.80" cy="295.00" r="2.4" fill="#595959" stroke="#0a0a0a" stroke-width="1.05"/>
<circle cx="399.50" cy="295.90" r="2.4" fill="#595959" stroke="#0a0a0a" stroke-width="1.05"/>
<line x1="389.70" y1="295.20" x2="409.30" y2="295.20" stroke="#0a0a0a" stroke-width="1.2" stroke-linecap="butt"/>
<circle cx="465.00" cy="277.80" r="2.85" fill="#050505"/>
<circle cx="472.20" cy="271.80" r="2.85" fill="#050505"/>
<line x1="458.90" y1="274.30" x2="478.50" y2="274.30" stroke="#0a0a0a" stroke-width="1.2" stroke-linecap="butt"/>
<line x1="488.90" y1="265.50" x2="508.00" y2="265.50" stroke="#0a0a0a" stroke-width="1.2" stroke-linecap="butt"/>
<circle cx="498.00" cy="265.50" r="2.4" fill="#595959" stroke="#0a0a0a" stroke-width="1.05"/>
<line x1="47.30" y1="385.20" x2="47.30" y2="448.15" stroke="#111" stroke-width="1.3" stroke-linecap="butt"/>
<line x1="46.65" y1="447.50" x2="119.20" y2="447.50" stroke="#111" stroke-width="1.3" stroke-linecap="butt"/>
<line x1="43.20" y1="447.50" x2="47.30" y2="447.50" stroke="#111" stroke-width="1.1" stroke-linecap="butt"/>
<text x="41.50" y="450.25" font-size="8.2" text-anchor="end" font-weight="normal" fill="#151515" stroke="#151515" stroke-width="0.18">0</text>
<line x1="43.20" y1="435.70" x2="47.30" y2="435.70" stroke="#111" stroke-width="1.1" stroke-linecap="butt"/>
<text x="41.50" y="438.45" font-size="8.2" text-anchor="end" font-weight="normal" fill="#151515" stroke="#151515" stroke-width="0.18">5</text>
<line x1="43.20" y1="423.90" x2="47.30" y2="423.90" stroke="#111" stroke-width="1.1" stroke-linecap="butt"/>
<text x="41.50" y="426.65" font-size="8.2" text-anchor="end" font-weight="normal" fill="#151515" stroke="#151515" stroke-width="0.18">10</text>
<line x1="43.20" y1="412.10" x2="47.30" y2="412.10" stroke="#111" stroke-width="1.1" stroke-linecap="butt"/>
<text x="41.50" y="414.85" font-size="8.2" text-anchor="end" font-weight="normal" fill="#151515" stroke="#151515" stroke-width="0.18">15</text>
<line x1="43.20" y1="400.30" x2="47.30" y2="400.30" stroke="#111" stroke-width="1.1" stroke-linecap="butt"/>
<text x="41.50" y="403.05" font-size="8.2" text-anchor="end" font-weight="normal" fill="#151515" stroke="#151515" stroke-width="0.18">20</text>
<line x1="43.20" y1="388.50" x2="47.30" y2="388.50" stroke="#111" stroke-width="1.1" stroke-linecap="butt"/>
<text x="41.50" y="391.25" font-size="8.2" text-anchor="end" font-weight="normal" fill="#151515" stroke="#151515" stroke-width="0.18">25</text>
<line x1="59.25" y1="447.50" x2="59.25" y2="451.10" stroke="#111" stroke-width="1.1" stroke-linecap="butt"/>
<line x1="83.25" y1="447.50" x2="83.25" y2="451.10" stroke="#111" stroke-width="1.1" stroke-linecap="butt"/>
<line x1="107.00" y1="447.50" x2="107.00" y2="451.10" stroke="#111" stroke-width="1.1" stroke-linecap="butt"/>
<text x="27.30" y="418.00" font-size="8.6" text-anchor="middle" font-weight="normal" fill="#151515" stroke="#151515" stroke-width="0.18" transform="rotate(-90 27.30 418.00)">deletions</text>
<text x="83.75" y="380.00" font-size="9.8" text-anchor="middle" font-weight="normal" fill="#151515" stroke="#151515" stroke-width="0.18">IGH</text>
<text x="61.75" y="459.00" font-size="8.0" text-anchor="end" font-weight="normal" fill="#151515" stroke="#151515" stroke-width="0.18" transform="rotate(-45 61.75 459.00)">Control</text>
<text x="85.75" y="458.90" font-size="8.0" text-anchor="end" font-weight="normal" fill="#151515" stroke="#151515" stroke-width="0.18" transform="rotate(-45 85.75 458.90)">XLF</text>
<g transform="rotate(-45 109.50 455.50)"><text x="91.25" y="455.90" font-size="8.0" text-anchor="middle" fill="#151515" stroke="#151515" stroke-width="0.18">XRCC4/</text><text x="96.10" y="465.40" font-size="8.0" text-anchor="middle" fill="#151515" stroke="#151515" stroke-width="0.18">LIG4</text></g>
<line x1="158.10" y1="385.20" x2="158.10" y2="448.15" stroke="#111" stroke-width="1.3" stroke-linecap="butt"/>
<line x1="157.45" y1="447.50" x2="217.50" y2="447.50" stroke="#111" stroke-width="1.3" stroke-linecap="butt"/>
<line x1="154.00" y1="447.50" x2="158.10" y2="447.50" stroke="#111" stroke-width="1.1" stroke-linecap="butt"/>
<text x="152.00" y="450.25" font-size="8.2" text-anchor="end" font-weight="normal" fill="#151515" stroke="#151515" stroke-width="0.18">0</text>
<line x1="154.00" y1="435.70" x2="158.10" y2="435.70" stroke="#111" stroke-width="1.1" stroke-linecap="butt"/>
<text x="152.00" y="438.45" font-size="8.2" text-anchor="end" font-weight="normal" fill="#151515" stroke="#151515" stroke-width="0.18">2</text>
<line x1="154.00" y1="423.90" x2="158.10" y2="423.90" stroke="#111" stroke-width="1.1" stroke-linecap="butt"/>
<text x="152.00" y="426.65" font-size="8.2" text-anchor="end" font-weight="normal" fill="#151515" stroke="#151515" stroke-width="0.18">4</text>
<line x1="154.00" y1="412.10" x2="158.10" y2="412.10" stroke="#111" stroke-width="1.1" stroke-linecap="butt"/>
<text x="152.00" y="414.85" font-size="8.2" text-anchor="end" font-weight="normal" fill="#151515" stroke="#151515" stroke-width="0.18">6</text>
<line x1="154.00" y1="400.30" x2="158.10" y2="400.30" stroke="#111" stroke-width="1.1" stroke-linecap="butt"/>
<text x="152.00" y="403.05" font-size="8.2" text-anchor="end" font-weight="normal" fill="#151515" stroke="#151515" stroke-width="0.18">8</text>
<line x1="154.00" y1="388.50" x2="158.10" y2="388.50" stroke="#111" stroke-width="1.1" stroke-linecap="butt"/>
<text x="152.00" y="391.25" font-size="8.2" text-anchor="end" font-weight="normal" fill="#151515" stroke="#151515" stroke-width="0.18">10</text>
<line x1="173.00" y1="447.50" x2="173.00" y2="451.10" stroke="#111" stroke-width="1.1" stroke-linecap="butt"/>
<line x1="202.50" y1="447.50" x2="202.50" y2="451.10" stroke="#111" stroke-width="1.1" stroke-linecap="butt"/>
<text x="137.50" y="418.00" font-size="8.6" text-anchor="middle" font-weight="normal" fill="#151515" stroke="#151515" stroke-width="0.18" transform="rotate(-90 137.50 418.00)">deletions</text>
<text x="187.50" y="380.00" font-size="9.8" text-anchor="middle" font-weight="normal" fill="#151515" stroke="#151515" stroke-width="0.18">IGK</text>
<text x="172.60" y="461.20" font-size="8.2" text-anchor="middle" font-weight="normal" fill="#151515" stroke="#151515" stroke-width="0.18">Control</text>
<text x="202.50" y="461.20" font-size="8.2" text-anchor="middle" font-weight="normal" fill="#151515" stroke="#151515" stroke-width="0.18">XLF</text>
<line x1="256.60" y1="385.20" x2="256.60" y2="448.15" stroke="#111" stroke-width="1.3" stroke-linecap="butt"/>
<line x1="255.95" y1="447.50" x2="316.25" y2="447.50" stroke="#111" stroke-width="1.3" stroke-linecap="butt"/>
<line x1="252.50" y1="447.50" x2="256.60" y2="447.50" stroke="#111" stroke-width="1.1" stroke-linecap="butt"/>
<text x="250.50" y="450.25" font-size="8.2" text-anchor="end" font-weight="normal" fill="#151515" stroke="#151515" stroke-width="0.18">0</text>
<line x1="252.50" y1="435.70" x2="256.60" y2="435.70" stroke="#111" stroke-width="1.1" stroke-linecap="butt"/>
<text x="250.50" y="438.45" font-size="8.2" text-anchor="end" font-weight="normal" fill="#151515" stroke="#151515" stroke-width="0.18">2</text>
<line x1="252.50" y1="423.90" x2="256.60" y2="423.90" stroke="#111" stroke-width="1.1" stroke-linecap="butt"/>
<text x="250.50" y="426.65" font-size="8.2" text-anchor="end" font-weight="normal" fill="#151515" stroke="#151515" stroke-width="0.18">4</text>
<line x1="252.50" y1="412.10" x2="256.60" y2="412.10" stroke="#111" stroke-width="1.1" stroke-linecap="butt"/>
<text x="250.50" y="414.85" font-size="8.2" text-anchor="end" font-weight="normal" fill="#151515" stroke="#151515" stroke-width="0.18">6</text>
<line x1="252.50" y1="400.30" x2="256.60" y2="400.30" stroke="#111" stroke-width="1.1" stroke-linecap="butt"/>
<text x="250.50" y="403.05" font-size="8.2" text-anchor="end" font-weight="normal" fill="#151515" stroke="#151515" stroke-width="0.18">8</text>
<line x1="252.50" y1="388.50" x2="256.60" y2="388.50" stroke="#111" stroke-width="1.1" stroke-linecap="butt"/>
<text x="250.50" y="391.25" font-size="8.2" text-anchor="end" font-weight="normal" fill="#151515" stroke="#151515" stroke-width="0.18">10</text>
<line x1="271.25" y1="447.50" x2="271.25" y2="451.10" stroke="#111" stroke-width="1.1" stroke-linecap="butt"/>
<line x1="300.75" y1="447.50" x2="300.75" y2="451.10" stroke="#111" stroke-width="1.1" stroke-linecap="butt"/>
<text x="236.80" y="418.00" font-size="8.6" text-anchor="middle" font-weight="normal" fill="#151515" stroke="#151515" stroke-width="0.18" transform="rotate(-90 236.80 418.00)">deletions</text>
<text x="286.25" y="380.00" font-size="9.8" text-anchor="middle" font-weight="normal" fill="#151515" stroke="#151515" stroke-width="0.18">IGL</text>
<text x="270.85" y="461.20" font-size="8.2" text-anchor="middle" font-weight="normal" fill="#151515" stroke="#151515" stroke-width="0.18">Control</text>
<text x="300.75" y="461.20" font-size="8.2" text-anchor="middle" font-weight="normal" fill="#151515" stroke="#151515" stroke-width="0.18">XLF</text>
<line x1="355.20" y1="385.20" x2="355.20" y2="448.15" stroke="#111" stroke-width="1.3" stroke-linecap="butt"/>
<line x1="354.55" y1="447.50" x2="414.50" y2="447.50" stroke="#111" stroke-width="1.3" stroke-linecap="butt"/>
<line x1="351.10" y1="447.50" x2="355.20" y2="447.50" stroke="#111" stroke-width="1.1" stroke-linecap="butt"/>
<text x="349.10" y="450.25" font-size="8.2" text-anchor="end" font-weight="normal" fill="#151515" stroke="#151515" stroke-width="0.18">0</text>
<line x1="351.10" y1="435.70" x2="355.20" y2="435.70" stroke="#111" stroke-width="1.1" stroke-linecap="butt"/>
<text x="349.10" y="438.45" font-size="8.2" text-anchor="end" font-weight="normal" fill="#151515" stroke="#151515" stroke-width="0.18">5</text>
<line x1="351.10" y1="423.90" x2="355.20" y2="423.90" stroke="#111" stroke-width="1.1" stroke-linecap="butt"/>
<text x="349.10" y="426.65" font-size="8.2" text-anchor="end" font-weight="normal" fill="#151515" stroke="#151515" stroke-width="0.18">10</text>
<line x1="351.10" y1="412.10" x2="355.20" y2="412.10" stroke="#111" stroke-width="1.1" stroke-linecap="butt"/>
<text x="349.10" y="414.85" font-size="8.2" text-anchor="end" font-weight="normal" fill="#151515" stroke="#151515" stroke-width="0.18">15</text>
<line x1="351.10" y1="400.30" x2="355.20" y2="400.30" stroke="#111" stroke-width="1.1" stroke-linecap="butt"/>
<text x="349.10" y="403.05" font-size="8.2" text-anchor="end" font-weight="normal" fill="#151515" stroke="#151515" stroke-width="0.18">20</text>
<line x1="351.10" y1="388.50" x2="355.20" y2="388.50" stroke="#111" stroke-width="1.1" stroke-linecap="butt"/>
<text x="349.10" y="391.25" font-size="8.2" text-anchor="end" font-weight="normal" fill="#151515" stroke="#151515" stroke-width="0.18">25</text>
<line x1="369.50" y1="447.50" x2="369.50" y2="451.10" stroke="#111" stroke-width="1.1" stroke-linecap="butt"/>
<line x1="399.00" y1="447.50" x2="399.00" y2="451.10" stroke="#111" stroke-width="1.1" stroke-linecap="butt"/>
<text x="335.20" y="418.00" font-size="8.6" text-anchor="middle" font-weight="normal" fill="#151515" stroke="#151515" stroke-width="0.18" transform="rotate(-90 335.20 418.00)">deletions</text>
<text x="384.50" y="380.00" font-size="9.8" text-anchor="middle" font-weight="normal" fill="#151515" stroke="#151515" stroke-width="0.18">TRD</text>
<text x="369.10" y="461.20" font-size="8.2" text-anchor="middle" font-weight="normal" fill="#151515" stroke="#151515" stroke-width="0.18">Control</text>
<text x="399.00" y="461.20" font-size="8.2" text-anchor="middle" font-weight="normal" fill="#151515" stroke="#151515" stroke-width="0.18">XLF</text>
<line x1="453.50" y1="385.20" x2="453.50" y2="448.15" stroke="#111" stroke-width="1.3" stroke-linecap="butt"/>
<line x1="452.85" y1="447.50" x2="512.60" y2="447.50" stroke="#111" stroke-width="1.3" stroke-linecap="butt"/>
<line x1="449.40" y1="447.50" x2="453.50" y2="447.50" stroke="#111" stroke-width="1.1" stroke-linecap="butt"/>
<text x="447.50" y="450.25" font-size="8.2" text-anchor="end" font-weight="normal" fill="#151515" stroke="#151515" stroke-width="0.18">0</text>
<line x1="449.40" y1="435.70" x2="453.50" y2="435.70" stroke="#111" stroke-width="1.1" stroke-linecap="butt"/>
<text x="447.50" y="438.45" font-size="8.2" text-anchor="end" font-weight="normal" fill="#151515" stroke="#151515" stroke-width="0.18">5</text>
<line x1="449.40" y1="423.90" x2="453.50" y2="423.90" stroke="#111" stroke-width="1.1" stroke-linecap="butt"/>
<text x="447.50" y="426.65" font-size="8.2" text-anchor="end" font-weight="normal" fill="#151515" stroke="#151515" stroke-width="0.18">10</text>
<line x1="449.40" y1="412.10" x2="453.50" y2="412.10" stroke="#111" stroke-width="1.1" stroke-linecap="butt"/>
<text x="447.50" y="414.85" font-size="8.2" text-anchor="end" font-weight="normal" fill="#151515" stroke="#151515" stroke-width="0.18">15</text>
<line x1="449.40" y1="400.30" x2="453.50" y2="400.30" stroke="#111" stroke-width="1.1" stroke-linecap="butt"/>
<text x="447.50" y="403.05" font-size="8.2" text-anchor="end" font-weight="normal" fill="#151515" stroke="#151515" stroke-width="0.18">20</text>
<line x1="449.40" y1="388.50" x2="453.50" y2="388.50" stroke="#111" stroke-width="1.1" stroke-linecap="butt"/>
<text x="447.50" y="391.25" font-size="8.2" text-anchor="end" font-weight="normal" fill="#151515" stroke="#151515" stroke-width="0.18">25</text>
<line x1="468.80" y1="447.50" x2="468.80" y2="451.10" stroke="#111" stroke-width="1.1" stroke-linecap="butt"/>
<line x1="498.00" y1="447.50" x2="498.00" y2="451.10" stroke="#111" stroke-width="1.1" stroke-linecap="butt"/>
<text x="433.80" y="418.00" font-size="8.6" text-anchor="middle" font-weight="normal" fill="#151515" stroke="#151515" stroke-width="0.18" transform="rotate(-90 433.80 418.00)">deletions</text>
<text x="483.50" y="380.00" font-size="9.8" text-anchor="middle" font-weight="normal" fill="#151515" stroke="#151515" stroke-width="0.18">TRB</text>
<text x="468.40" y="461.20" font-size="8.2" text-anchor="middle" font-weight="normal" fill="#151515" stroke="#151515" stroke-width="0.18">Control</text>
<text x="498.00" y="461.20" font-size="8.2" text-anchor="middle" font-weight="normal" fill="#151515" stroke="#151515" stroke-width="0.18">XLF</text>
<circle cx="55.30" cy="407.50" r="2.85" fill="#050505"/>
<circle cx="58.00" cy="408.60" r="2.85" fill="#050505"/>
<circle cx="61.50" cy="409.60" r="2.85" fill="#050505"/>
<circle cx="63.60" cy="409.60" r="2.85" fill="#050505"/>
<circle cx="55.60" cy="409.80" r="2.85" fill="#050505"/>
<circle cx="57.60" cy="411.20" r="2.85" fill="#050505"/>
<circle cx="61.60" cy="411.20" r="2.85" fill="#050505"/>
<circle cx="59.60" cy="411.90" r="2.85" fill="#050505"/>
<line x1="51.30" y1="409.20" x2="67.20" y2="409.20" stroke="#0a0a0a" stroke-width="1.2" stroke-linecap="butt"/>
<circle cx="78.70" cy="402.40" r="2.4" fill="#595959" stroke="#0a0a0a" stroke-width="1.05"/>
<circle cx="87.40" cy="402.40" r="2.4" fill="#595959" stroke="#0a0a0a" stroke-width="1.05"/>
<circle cx="83.00" cy="403.70" r="2.4" fill="#595959" stroke="#0a0a0a" stroke-width="1.05"/>
<circle cx="78.50" cy="408.20" r="2.4" fill="#595959" stroke="#0a0a0a" stroke-width="1.05"/>
<circle cx="87.40" cy="408.20" r="2.4" fill="#595959" stroke="#0a0a0a" stroke-width="1.05"/>
<circle cx="79.60" cy="411.50" r="2.4" fill="#595959" stroke="#0a0a0a" stroke-width="1.05"/>
<circle cx="86.60" cy="411.50" r="2.4" fill="#595959" stroke="#0a0a0a" stroke-width="1.05"/>
<circle cx="83.00" cy="412.70" r="2.4" fill="#595959" stroke="#0a0a0a" stroke-width="1.05"/>
<line x1="75.10" y1="406.80" x2="91.50" y2="406.80" stroke="#0a0a0a" stroke-width="1.2" stroke-linecap="butt"/>
<circle cx="106.70" cy="404.30" r="2.4" fill="#d4d4d4" stroke="#0a0a0a" stroke-width="1.05"/>
<circle cx="110.30" cy="407.10" r="2.4" fill="#d4d4d4" stroke="#0a0a0a" stroke-width="1.05"/>
<circle cx="103.20" cy="409.70" r="2.4" fill="#d4d4d4" stroke="#0a0a0a" stroke-width="1.05"/>
<circle cx="106.90" cy="410.40" r="2.4" fill="#d4d4d4" stroke="#0a0a0a" stroke-width="1.05"/>
<circle cx="110.60" cy="410.00" r="2.4" fill="#d4d4d4" stroke="#0a0a0a" stroke-width="1.05"/>
<circle cx="103.20" cy="413.80" r="2.4" fill="#d4d4d4" stroke="#0a0a0a" stroke-width="1.05"/>
<circle cx="110.20" cy="413.80" r="2.4" fill="#d4d4d4" stroke="#0a0a0a" stroke-width="1.05"/>
<circle cx="106.80" cy="414.40" r="2.4" fill="#d4d4d4" stroke="#0a0a0a" stroke-width="1.05"/>
<line x1="99.20" y1="409.20" x2="114.40" y2="409.20" stroke="#0a0a0a" stroke-width="1.2" stroke-linecap="butt"/>
<circle cx="167.00" cy="417.90" r="2.85" fill="#050505"/>
<circle cx="170.00" cy="417.90" r="2.85" fill="#050505"/>
<circle cx="176.30" cy="417.90" r="2.85" fill="#050505"/>
<circle cx="179.30" cy="417.90" r="2.85" fill="#050505"/>
<circle cx="171.30" cy="423.80" r="2.85" fill="#050505"/>
<circle cx="174.50" cy="423.80" r="2.85" fill="#050505"/>
<line x1="163.80" y1="417.90" x2="182.50" y2="417.90" stroke="#0a0a0a" stroke-width="1.2" stroke-linecap="butt"/>
<line x1="193.80" y1="417.90" x2="212.00" y2="417.90" stroke="#0a0a0a" stroke-width="1.2" stroke-linecap="butt"/>
<circle cx="202.50" cy="412.00" r="2.4" fill="#595959" stroke="#0a0a0a" stroke-width="1.05"/>
<circle cx="196.30" cy="417.90" r="2.4" fill="#595959" stroke="#0a0a0a" stroke-width="1.05"/>
<circle cx="199.50" cy="417.90" r="2.4" fill="#595959" stroke="#0a0a0a" stroke-width="1.05"/>
<circle cx="208.80" cy="417.90" r="2.4" fill="#595959" stroke="#0a0a0a" stroke-width="1.05"/>
<circle cx="202.50" cy="423.80" r="2.4" fill="#595959" stroke="#0a0a0a" stroke-width="1.05"/>
<circle cx="205.80" cy="423.80" r="2.4" fill="#595959" stroke="#0a0a0a" stroke-width="1.05"/>
<circle cx="264.00" cy="423.80" r="2.85" fill="#050505"/>
<circle cx="266.40" cy="423.80" r="2.85" fill="#050505"/>
<circle cx="268.80" cy="423.80" r="2.85" fill="#050505"/>
<circle cx="271.20" cy="423.80" r="2.85" fill="#050505"/>
<circle cx="273.60" cy="423.80" r="2.85" fill="#050505"/>
<circle cx="276.00" cy="423.80" r="2.85" fill="#050505"/>
<circle cx="278.40" cy="423.80" r="2.85" fill="#050505"/>
<circle cx="275.00" cy="418.00" r="2.85" fill="#050505"/>
<line x1="291.30" y1="423.80" x2="310.50" y2="423.80" stroke="#0a0a0a" stroke-width="1.2" stroke-linecap="butt"/>
<circle cx="295.00" cy="423.80" r="2.4" fill="#595959" stroke="#0a0a0a" stroke-width="1.05"/>
<circle cx="301.00" cy="423.80" r="2.4" fill="#595959" stroke="#0a0a0a" stroke-width="1.05"/>
<circle cx="307.00" cy="423.80" r="2.4" fill="#595959" stroke="#0a0a0a" stroke-width="1.05"/>
<circle cx="366.30" cy="419.30" r="2.85" fill="#050505"/>
<circle cx="373.80" cy="419.30" r="2.85" fill="#050505"/>
<circle cx="365.00" cy="421.80" r="2.85" fill="#050505"/>
<circle cx="374.50" cy="421.80" r="2.85" fill="#050505"/>
<circle cx="371.30" cy="423.80" r="2.85" fill="#050505"/>
<circle cx="368.30" cy="426.30" r="2.85" fill="#050505"/>
<line x1="360.50" y1="421.80" x2="380.00" y2="421.80" stroke="#0a0a0a" stroke-width="1.2" stroke-linecap="butt"/>
<line x1="390.00" y1="421.80" x2="409.50" y2="421.80" stroke="#0a0a0a" stroke-width="1.2" stroke-linecap="butt"/>
<circle cx="395.60" cy="421.90" r="2.4" fill="#595959" stroke="#0a0a0a" stroke-width="1.05"/>
<circle cx="397.60" cy="421.90" r="2.4" fill="#595959" stroke="#0a0a0a" stroke-width="1.05"/>
<circle cx="402.00" cy="421.90" r="2.4" fill="#595959" stroke="#0a0a0a" stroke-width="1.05"/>
<circle cx="403.20" cy="419.00" r="2.4" fill="#595959" stroke="#0a0a0a" stroke-width="1.05"/>
<line x1="458.90" y1="411.90" x2="478.50" y2="411.90" stroke="#0a0a0a" stroke-width="1.2" stroke-linecap="butt"/>
<circle cx="465.00" cy="411.90" r="2.85" fill="#050505"/>
<circle cx="472.20" cy="411.90" r="2.85" fill="#050505"/>
<line x1="488.90" y1="404.80" x2="508.00" y2="404.80" stroke="#0a0a0a" stroke-width="1.2" stroke-linecap="butt"/>
<circle cx="498.00" cy="404.80" r="2.4" fill="#595959" stroke="#0a0a0a" stroke-width="1.05"/>
<line x1="47.30" y1="519.50" x2="47.30" y2="582.65" stroke="#111" stroke-width="1.3" stroke-linecap="butt"/>
<line x1="46.65" y1="582.00" x2="119.20" y2="582.00" stroke="#111" stroke-width="1.3" stroke-linecap="butt"/>
<line x1="43.20" y1="582.00" x2="47.30" y2="582.00" stroke="#111" stroke-width="1.1" stroke-linecap="butt"/>
<text x="41.50" y="584.75" font-size="8.2" text-anchor="end" font-weight="normal" fill="#151515" stroke="#151515" stroke-width="0.18">0</text>
<line x1="43.20" y1="552.25" x2="47.30" y2="552.25" stroke="#111" stroke-width="1.1" stroke-linecap="butt"/>
<text x="41.50" y="555.00" font-size="8.2" text-anchor="end" font-weight="normal" fill="#151515" stroke="#151515" stroke-width="0.18">1</text>
<line x1="43.20" y1="522.50" x2="47.30" y2="522.50" stroke="#111" stroke-width="1.1" stroke-linecap="butt"/>
<text x="41.50" y="525.25" font-size="8.2" text-anchor="end" font-weight="normal" fill="#151515" stroke="#151515" stroke-width="0.18">2</text>
<line x1="59.25" y1="582.00" x2="59.25" y2="585.60" stroke="#111" stroke-width="1.1" stroke-linecap="butt"/>
<line x1="83.25" y1="582.00" x2="83.25" y2="585.60" stroke="#111" stroke-width="1.1" stroke-linecap="butt"/>
<line x1="107.00" y1="582.00" x2="107.00" y2="585.60" stroke="#111" stroke-width="1.1" stroke-linecap="butt"/>
<text x="32.30" y="551.00" font-size="8.6" text-anchor="middle" font-weight="normal" fill="#151515" stroke="#151515" stroke-width="0.18" transform="rotate(-90 32.30 551.00)">P-nucleotides</text>
<text x="83.75" y="514.40" font-size="9.8" text-anchor="middle" font-weight="normal" fill="#151515" stroke="#151515" stroke-width="0.18">IGH</text>
<text x="61.75" y="592.90" font-size="8.0" text-anchor="end" font-weight="normal" fill="#151515" stroke="#151515" stroke-width="0.18" transform="rotate(-45 61.75 592.90)">Control</text>
<text x="85.75" y="592.80" font-size="8.0" text-anchor="end" font-weight="normal" fill="#151515" stroke="#151515" stroke-width="0.18" transform="rotate(-45 85.75 592.80)">XLF</text>
<g transform="rotate(-45 109.50 589.40)"><text x="92.20" y="589.20" font-size="8.0" text-anchor="middle" fill="#151515" stroke="#151515" stroke-width="0.18">XRCC4</text><text x="96.80" y="599.30" font-size="8.0" text-anchor="middle" fill="#151515" stroke="#151515" stroke-width="0.18">LIG4</text></g>
<line x1="158.10" y1="519.50" x2="158.10" y2="582.65" stroke="#111" stroke-width="1.3" stroke-linecap="butt"/>
<line x1="157.45" y1="582.00" x2="217.50" y2="582.00" stroke="#111" stroke-width="1.3" stroke-linecap="butt"/>
<line x1="154.00" y1="582.00" x2="158.10" y2="582.00" stroke="#111" stroke-width="1.1" stroke-linecap="butt"/>
<text x="152.00" y="584.75" font-size="8.2" text-anchor="end" font-weight="normal" fill="#151515" stroke="#151515" stroke-width="0.18">0</text>
<line x1="154.00" y1="552.25" x2="158.10" y2="552.25" stroke="#111" stroke-width="1.1" stroke-linecap="butt"/>
<text x="152.00" y="555.00" font-size="8.2" text-anchor="end" font-weight="normal" fill="#151515" stroke="#151515" stroke-width="0.18">1</text>
<line x1="154.00" y1="522.50" x2="158.10" y2="522.50" stroke="#111" stroke-width="1.1" stroke-linecap="butt"/>
<text x="152.00" y="525.25" font-size="8.2" text-anchor="end" font-weight="normal" fill="#151515" stroke="#151515" stroke-width="0.18">2</text>
<line x1="173.00" y1="582.00" x2="173.00" y2="585.60" stroke="#111" stroke-width="1.1" stroke-linecap="butt"/>
<line x1="202.50" y1="582.00" x2="202.50" y2="585.60" stroke="#111" stroke-width="1.1" stroke-linecap="butt"/>
<text x="142.20" y="551.00" font-size="8.6" text-anchor="middle" font-weight="normal" fill="#151515" stroke="#151515" stroke-width="0.18" transform="rotate(-90 142.20 551.00)">P-nucleotides</text>
<text x="187.50" y="514.40" font-size="9.8" text-anchor="middle" font-weight="normal" fill="#151515" stroke="#151515" stroke-width="0.18">IGK</text>
<text x="172.60" y="595.10" font-size="8.2" text-anchor="middle" font-weight="normal" fill="#151515" stroke="#151515" stroke-width="0.18">Control</text>
<text x="202.50" y="595.10" font-size="8.2" text-anchor="middle" font-weight="normal" fill="#151515" stroke="#151515" stroke-width="0.18">XLF</text>
<line x1="256.60" y1="519.50" x2="256.60" y2="582.65" stroke="#111" stroke-width="1.3" stroke-linecap="butt"/>
<line x1="255.95" y1="582.00" x2="316.25" y2="582.00" stroke="#111" stroke-width="1.3" stroke-linecap="butt"/>
<line x1="252.50" y1="582.00" x2="256.60" y2="582.00" stroke="#111" stroke-width="1.1" stroke-linecap="butt"/>
<text x="250.50" y="584.75" font-size="8.2" text-anchor="end" font-weight="normal" fill="#151515" stroke="#151515" stroke-width="0.18">0</text>
<line x1="252.50" y1="552.25" x2="256.60" y2="552.25" stroke="#111" stroke-width="1.1" stroke-linecap="butt"/>
<text x="250.50" y="555.00" font-size="8.2" text-anchor="end" font-weight="normal" fill="#151515" stroke="#151515" stroke-width="0.18">1</text>
<line x1="252.50" y1="522.50" x2="256.60" y2="522.50" stroke="#111" stroke-width="1.1" stroke-linecap="butt"/>
<text x="250.50" y="525.25" font-size="8.2" text-anchor="end" font-weight="normal" fill="#151515" stroke="#151515" stroke-width="0.18">2</text>
<line x1="271.25" y1="582.00" x2="271.25" y2="585.60" stroke="#111" stroke-width="1.1" stroke-linecap="butt"/>
<line x1="300.75" y1="582.00" x2="300.75" y2="585.60" stroke="#111" stroke-width="1.1" stroke-linecap="butt"/>
<text x="241.00" y="551.00" font-size="8.6" text-anchor="middle" font-weight="normal" fill="#151515" stroke="#151515" stroke-width="0.18" transform="rotate(-90 241.00 551.00)">P-nucleotides</text>
<text x="286.25" y="514.40" font-size="9.8" text-anchor="middle" font-weight="normal" fill="#151515" stroke="#151515" stroke-width="0.18">IGL</text>
<text x="270.85" y="595.10" font-size="8.2" text-anchor="middle" font-weight="normal" fill="#151515" stroke="#151515" stroke-width="0.18">Control</text>
<text x="300.75" y="595.10" font-size="8.2" text-anchor="middle" font-weight="normal" fill="#151515" stroke="#151515" stroke-width="0.18">XLF</text>
<line x1="355.20" y1="519.50" x2="355.20" y2="582.65" stroke="#111" stroke-width="1.3" stroke-linecap="butt"/>
<line x1="354.55" y1="582.00" x2="414.50" y2="582.00" stroke="#111" stroke-width="1.3" stroke-linecap="butt"/>
<line x1="351.10" y1="582.00" x2="355.20" y2="582.00" stroke="#111" stroke-width="1.1" stroke-linecap="butt"/>
<text x="349.10" y="584.75" font-size="8.2" text-anchor="end" font-weight="normal" fill="#151515" stroke="#151515" stroke-width="0.18">0</text>
<line x1="351.10" y1="552.25" x2="355.20" y2="552.25" stroke="#111" stroke-width="1.1" stroke-linecap="butt"/>
<text x="349.10" y="555.00" font-size="8.2" text-anchor="end" font-weight="normal" fill="#151515" stroke="#151515" stroke-width="0.18">1</text>
<line x1="351.10" y1="522.50" x2="355.20" y2="522.50" stroke="#111" stroke-width="1.1" stroke-linecap="butt"/>
<text x="349.10" y="525.25" font-size="8.2" text-anchor="end" font-weight="normal" fill="#151515" stroke="#151515" stroke-width="0.18">2</text>
<line x1="369.50" y1="582.00" x2="369.50" y2="585.60" stroke="#111" stroke-width="1.1" stroke-linecap="butt"/>
<line x1="399.00" y1="582.00" x2="399.00" y2="585.60" stroke="#111" stroke-width="1.1" stroke-linecap="butt"/>
<text x="338.30" y="551.00" font-size="8.6" text-anchor="middle" font-weight="normal" fill="#151515" stroke="#151515" stroke-width="0.18" transform="rotate(-90 338.30 551.00)">P-nucleotides</text>
<text x="384.50" y="514.40" font-size="9.8" text-anchor="middle" font-weight="normal" fill="#151515" stroke="#151515" stroke-width="0.18">TRD</text>
<text x="369.10" y="595.10" font-size="8.2" text-anchor="middle" font-weight="normal" fill="#151515" stroke="#151515" stroke-width="0.18">Control</text>
<text x="399.00" y="595.10" font-size="8.2" text-anchor="middle" font-weight="normal" fill="#151515" stroke="#151515" stroke-width="0.18">XLF</text>
<line x1="453.50" y1="519.50" x2="453.50" y2="582.65" stroke="#111" stroke-width="1.3" stroke-linecap="butt"/>
<line x1="452.85" y1="582.00" x2="512.60" y2="582.00" stroke="#111" stroke-width="1.3" stroke-linecap="butt"/>
<line x1="449.40" y1="582.00" x2="453.50" y2="582.00" stroke="#111" stroke-width="1.1" stroke-linecap="butt"/>
<text x="447.50" y="584.75" font-size="8.2" text-anchor="end" font-weight="normal" fill="#151515" stroke="#151515" stroke-width="0.18">0</text>
<line x1="449.40" y1="552.25" x2="453.50" y2="552.25" stroke="#111" stroke-width="1.1" stroke-linecap="butt"/>
<text x="447.50" y="555.00" font-size="8.2" text-anchor="end" font-weight="normal" fill="#151515" stroke="#151515" stroke-width="0.18">1</text>
<line x1="449.40" y1="522.50" x2="453.50" y2="522.50" stroke="#111" stroke-width="1.1" stroke-linecap="butt"/>
<text x="447.50" y="525.25" font-size="8.2" text-anchor="end" font-weight="normal" fill="#151515" stroke="#151515" stroke-width="0.18">2</text>
<line x1="468.80" y1="582.00" x2="468.80" y2="585.60" stroke="#111" stroke-width="1.1" stroke-linecap="butt"/>
<line x1="498.00" y1="582.00" x2="498.00" y2="585.60" stroke="#111" stroke-width="1.1" stroke-linecap="butt"/>
<text x="436.70" y="551.00" font-size="8.6" text-anchor="middle" font-weight="normal" fill="#151515" stroke="#151515" stroke-width="0.18" transform="rotate(-90 436.70 551.00)">P-nucleotides</text>
<text x="483.50" y="514.40" font-size="9.8" text-anchor="middle" font-weight="normal" fill="#151515" stroke="#151515" stroke-width="0.18">TRB</text>
<text x="468.40" y="595.10" font-size="8.2" text-anchor="middle" font-weight="normal" fill="#151515" stroke="#151515" stroke-width="0.18">Control</text>
<text x="498.00" y="595.10" font-size="8.2" text-anchor="middle" font-weight="normal" fill="#151515" stroke="#151515" stroke-width="0.18">XLF</text>
<circle cx="55.50" cy="582.00" r="2.85" fill="#050505"/>
<circle cx="56.64" cy="582.00" r="2.85" fill="#050505"/>
<circle cx="57.78" cy="582.00" r="2.85" fill="#050505"/>
<circle cx="58.92" cy="582.00" r="2.85" fill="#050505"/>
<circle cx="60.06" cy="582.00" r="2.85" fill="#050505"/>
<circle cx="61.20" cy="582.00" r="2.85" fill="#050505"/>
<circle cx="62.34" cy="582.00" r="2.85" fill="#050505"/>
<circle cx="63.48" cy="582.00" r="2.85" fill="#050505"/>
<circle cx="79.50" cy="582.00" r="2.4" fill="#595959" stroke="#0a0a0a" stroke-width="1.05"/>
<circle cx="82.07" cy="582.00" r="2.4" fill="#595959" stroke="#0a0a0a" stroke-width="1.05"/>
<circle cx="84.64" cy="582.00" r="2.4" fill="#595959" stroke="#0a0a0a" stroke-width="1.05"/>
<circle cx="87.21" cy="582.00" r="2.4" fill="#595959" stroke="#0a0a0a" stroke-width="1.05"/>
<circle cx="102.80" cy="582.00" r="2.4" fill="#d4d4d4" stroke="#0a0a0a" stroke-width="1.05"/>
<circle cx="105.60" cy="582.00" r="2.4" fill="#d4d4d4" stroke="#0a0a0a" stroke-width="1.05"/>
<circle cx="108.40" cy="582.00" r="2.4" fill="#d4d4d4" stroke="#0a0a0a" stroke-width="1.05"/>
<circle cx="111.20" cy="582.00" r="2.4" fill="#d4d4d4" stroke="#0a0a0a" stroke-width="1.05"/>
<circle cx="168.30" cy="582.00" r="2.85" fill="#050505"/>
<circle cx="170.10" cy="582.00" r="2.85" fill="#050505"/>
<circle cx="171.90" cy="582.00" r="2.85" fill="#050505"/>
<circle cx="173.70" cy="582.00" r="2.85" fill="#050505"/>
<circle cx="175.50" cy="582.00" r="2.85" fill="#050505"/>
<circle cx="177.30" cy="582.00" r="2.85" fill="#050505"/>
<circle cx="179.10" cy="582.00" r="2.85" fill="#050505"/>
<circle cx="198.90" cy="582.00" r="2.4" fill="#595959" stroke="#0a0a0a" stroke-width="1.05"/>
<circle cx="201.50" cy="582.00" r="2.4" fill="#595959" stroke="#0a0a0a" stroke-width="1.05"/>
<circle cx="204.10" cy="582.00" r="2.4" fill="#595959" stroke="#0a0a0a" stroke-width="1.05"/>
<circle cx="206.70" cy="582.00" r="2.4" fill="#595959" stroke="#0a0a0a" stroke-width="1.05"/>
<circle cx="265.30" cy="582.00" r="2.85" fill="#050505"/>
<circle cx="267.12" cy="582.00" r="2.85" fill="#050505"/>
<circle cx="268.94" cy="582.00" r="2.85" fill="#050505"/>
<circle cx="270.76" cy="582.00" r="2.85" fill="#050505"/>
<circle cx="272.58" cy="582.00" r="2.85" fill="#050505"/>
<circle cx="274.40" cy="582.00" r="2.85" fill="#050505"/>
<circle cx="276.22" cy="582.00" r="2.85" fill="#050505"/>
<circle cx="278.04" cy="582.00" r="2.85" fill="#050505"/>
<circle cx="295.00" cy="582.00" r="2.4" fill="#595959" stroke="#0a0a0a" stroke-width="1.05"/>
<circle cx="301.00" cy="582.00" r="2.4" fill="#595959" stroke="#0a0a0a" stroke-width="1.05"/>
<circle cx="307.00" cy="582.00" r="2.4" fill="#595959" stroke="#0a0a0a" stroke-width="1.05"/>
<line x1="360.00" y1="552.30" x2="380.00" y2="552.30" stroke="#0a0a0a" stroke-width="1.2" stroke-linecap="butt"/>
<circle cx="366.80" cy="552.30" r="2.85" fill="#050505"/>
<circle cx="373.30" cy="552.30" r="2.85" fill="#050505"/>
<circle cx="366.80" cy="582.00" r="2.85" fill="#050505"/>
<circle cx="373.30" cy="582.00" r="2.85" fill="#050505"/>
<circle cx="396.30" cy="582.00" r="2.4" fill="#595959" stroke="#0a0a0a" stroke-width="1.05"/>
<circle cx="402.50" cy="582.00" r="2.4" fill="#595959" stroke="#0a0a0a" stroke-width="1.05"/>
<circle cx="465.00" cy="582.00" r="2.85" fill="#050505"/>
<circle cx="472.20" cy="582.00" r="2.85" fill="#050505"/>
<circle cx="498.00" cy="582.00" r="2.4" fill="#595959" stroke="#0a0a0a" stroke-width="1.05"/>
</g>
</svg></body></html>
